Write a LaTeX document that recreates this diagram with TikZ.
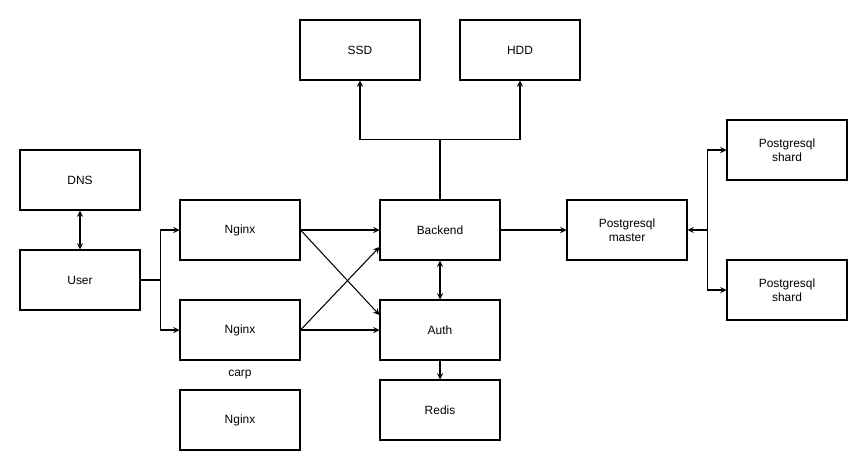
\documentclass[tikz,border=0pt]{standalone}
\usepackage{fontspec}
\setmainfont{Liberation Sans}
\usetikzlibrary{calc}

\tikzset{
	box/.style={draw, line width=0.6pt, minimum width=2.4cm, minimum height=1.2cm,
		inner sep=0pt, align=center, font=\fontsize{6.8}{8.2}\selectfont},
	link/.style={line width=0.6pt, -stealth},
	twolink/.style={line width=0.6pt, stealth-stealth}
}

\begin{document}
\begin{tikzpicture}[x=0.02cm, y=-0.02cm]
		\useasboundingbox (0,0) rectangle (868,471);

		\node[box] (ssd)     at (360, 50) {SSD};
		\node[box] (hdd)     at (520, 50) {HDD};
		\node[box] (dns)     at ( 80,180) {DNS};
		\node[box] (user)    at ( 80,280) {User};
		\node[box] (ngA)     at (240,230) {Nginx};
		\node[box] (ngB)     at (240,330) {Nginx};
		\node[box] (ngC)     at (240,420) {Nginx};
		\node[font=\fontsize{6.8}{8.2}\selectfont] (carp) at (240,375) {carp};
		\node[box] (backend) at (440,230) {Backend};
		\node[box] (auth)    at (440,330) {Auth};
		\node[box] (redis)   at (440,410) {Redis};
		\node[box] (master)  at (627,230) {Postgresql\\master};
		\node[box] (shA)     at (787,150) {Postgresql\\shard};
		\node[box] (shB)     at (787,290) {Postgresql\\shard};

		\draw[twolink] (dns) -- (user);

		\coordinate (uj) at ($(user.east)+(20,0)$);
		\draw[line width=0.6pt] (user.east) -- (uj);
		\draw[link] (uj) |- (ngA.west);
		\draw[link] (uj) |- (ngB.west);

		\draw[link] (ngA.east) -- (backend.west);
		\draw[link] (ngA.east) -- ($(auth.west)+(0,-15)$);
		\draw[link] (ngB.east) -- ($(backend.west)+(0,17)$);
		\draw[link] (ngB.east) -- (auth.west);

		\coordinate (bj) at ($(backend.north)+(0,-60)$);
		\draw[line width=0.6pt] (backend.north) -- (bj);
		\draw[link] (bj) -| (ssd.south);
		\draw[link] (bj) -| (hdd.south);

		\draw[twolink] (backend) -- (auth);
		\draw[link] (auth) -- (redis);
		\draw[link] (backend) -- (master);

		\coordinate (mj) at ($(master.east)+(20,0)$);
		\draw[link] (mj) -- (master.east);
		\draw[link] (mj) |- (shA.west);
		\draw[link] (mj) |- (shB.west);

	\end{tikzpicture}
\end{document}
